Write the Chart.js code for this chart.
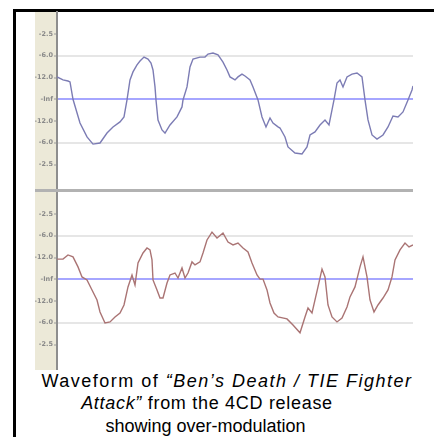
<!DOCTYPE html>
<html>
<head>
<meta charset="utf-8">
<script src="https://cdn.jsdelivr.net/npm/chart.js@4/dist/chart.umd.min.js"></script>
<style>
  html, body { margin: 0; padding: 0; background: #fff; width: 434px; height: 437px; overflow: hidden; position: relative; }
  #frame { position: absolute; left: 13px; top: 9px; width: 421px; height: 428px; border-top: 3px solid #000; border-left: 3px solid #000; box-sizing: border-box; }
  #strip { position: absolute; left: 35px; top: 12px; width: 21px; height: 358px; background: #ece9d8; }
  .panel { position: absolute; left: 35px; width: 378px; height: 179px; }
  #panelTop { top: 11px; }
  #panelBottom { top: 191px; }
  #divider { position: absolute; left: 35px; top: 189px; width: 378px; height: 3px; background: #b2b2b2; }
  .cap { position: absolute; left: 0; text-align: center; white-space: nowrap; font-family: "Liberation Sans", Arial, sans-serif; font-size: 18px; line-height: 22.5px; color: #000; }
</style>
</head>
<body>
<div id="frame"></div>
<div id="strip"></div>
<div class="panel" id="panelTop"><canvas id="chartTop"></canvas></div>
<div class="panel" id="panelBottom"><canvas id="chartBottom"></canvas></div>
<div id="divider"></div>
<div class="cap" style="top:369.5px; width:454px; letter-spacing:1.5px;">Waveform of <i>“Ben’s Death / TIE Fighter</i></div>
<div class="cap" style="top:392px; width:414px; letter-spacing:0.7px;"><i>Attack”</i> from the 4CD release</div>
<div class="cap" style="top:414.5px; width:411px;">showing over-modulation</div>
<script>
// dB ruler: evenly spaced level marks and their labels
const tickLevels = [3, 2, 1, 0, -1, -2, -3];
const tickLabels = ['-2.5', '-6.0', '-12.0', '-Inf', '-12.0', '-6.0', '-2.5'];

// Left channel (upper track)
const leftTime = [0, 6, 11, 13, 16, 23, 30, 36, 43, 50, 56, 63, 67, 70, 73, 76, 80, 83, 87, 91,
  94, 96, 98, 99, 101, 105, 108, 113, 120, 125, 126, 130, 133, 136, 143, 148, 151, 156, 161, 166,
  170, 173, 178, 181, 185, 188, 193, 196, 201, 205, 209, 213, 216, 221, 223, 228, 231, 238, 245, 250,
  253, 258, 263, 268, 272, 275, 277, 280, 283, 286, 290, 295, 300, 305, 308, 311, 315, 320, 326, 331,
  336, 341, 346, 351, 355, 356];
const leftLevel = [1.03, 0.89, 0.84, 0.80, 0.00, -1.09, -1.73, -2.06, -2.01, -1.55, -1.27, -1.04, -0.81, -0.03, 0.89, 1.26, 1.58, 1.76, 1.94, 1.85,
  1.67, 1.35, 0.57, -0.03, -0.95, -1.41, -1.55, -1.18, -0.81, -0.35, -0.03, 0.57, 1.49, 1.85, 1.94, 1.94, 2.08, 2.13, 2.04, 1.71,
  1.35, 1.03, 0.89, 1.03, 1.16, 1.07, 0.89, 0.57, -0.03, -0.81, -1.27, -0.86, -1.09, -1.27, -1.32, -1.73, -2.19, -2.47, -2.51, -2.19,
  -1.64, -1.50, -1.18, -0.95, -1.18, -0.49, -0.03, 0.75, 0.89, 0.57, 1.03, 1.16, 1.21, 1.03, -0.03, -0.95, -1.64, -1.83, -1.64, -1.27,
  -0.77, -0.81, -0.58, -0.03, 0.43, 0.61];

// Right channel (lower track)
const rightTime = [0, 6, 11, 16, 21, 25, 30, 35, 40, 43, 48, 53, 58, 63, 67, 71, 75, 78, 81, 86,
  90, 93, 95, 96, 100, 103, 106, 110, 113, 118, 121, 125, 128, 131, 135, 138, 143, 146, 150, 155,
  160, 166, 171, 176, 181, 186, 191, 195, 200, 203, 206, 210, 213, 217, 221, 230, 236, 243, 248, 251,
  255, 258, 261, 265, 268, 271, 275, 280, 285, 290, 293, 298, 303, 306, 310, 313, 317, 321, 326, 331,
  335, 338, 343, 348, 352, 356];
const rightLevel = [0.93, 0.93, 1.12, 1.03, 0.57, 0.11, -0.03, -0.49, -0.95, -1.50, -2.01, -1.96, -1.73, -1.55, -1.18, -0.35, 0.20, -0.26, 0.75, 1.21,
  1.44, 1.35, 0.89, -0.03, -0.49, -0.86, -0.86, -0.17, 0.20, 0.29, 0.06, 0.52, 0.06, 0.29, 0.80, 0.66, 0.80, 1.21, 1.81, 2.17,
  1.90, 2.13, 1.71, 1.58, 1.67, 1.44, 1.26, 0.75, 0.20, 0.01, 0.01, -0.49, -1.09, -1.55, -1.73, -1.82, -2.10, -2.46, -1.73, -1.32,
  -1.55, -0.95, -0.35, 0.47, 0.11, -1.18, -1.73, -1.96, -1.78, -1.27, -0.81, -0.35, 0.57, 1.03, 0.11, -0.95, -1.50, -1.18, -0.86, -0.49,
  0.11, 0.89, 1.35, 1.67, 1.49, 1.58];

function toPoints(times, levels) {
  return times.map((t, i) => ({ x: t, y: levels[i] }));
}

function trackOptions() {
  return {
    responsive: true,
    maintainAspectRatio: false,
    animation: false,
    layout: { padding: 0 },
    plugins: { legend: { display: false }, tooltip: { enabled: false } },
    elements: { point: { radius: 0 }, line: { tension: 0, borderWidth: 1.4 } },
    scales: {
      x: { type: 'linear', min: 0, max: 356, display: false },
      y: {
        type: 'linear',
        min: -4.17,
        max: 4.06,
        afterBuildTicks: (scale) => { scale.ticks = tickLevels.map(v => ({ value: v })); },
        afterFit: (scale) => { scale.width = 22; scale.paddingTop = 0; scale.paddingBottom = 0; },
        ticks: {
          autoSkip: false,
          padding: 1,
          color: '#8a8a8a',
          font: { size: 6.5, family: 'DejaVu Sans', weight: 'bold' },
          callback: (value) => tickLabels[tickLevels.indexOf(value)]
        },
        grid: {
          lineWidth: 2,
          tickLength: 3,
          tickColor: '#9a9a9a',
          tickWidth: 1,
          color: (ctx) => {
            const v = ctx.tick ? ctx.tick.value : null;
            if (v === 0) return '#a6a6ff';
            if (v === 2 || v === -2) return '#e6e6e6';
            return 'rgba(0,0,0,0)';
          }
        },
        border: { display: true, color: '#8e8e8e', width: 2 }
      }
    }
  };
}

new Chart(document.getElementById('chartTop'), {
  type: 'line',
  data: { datasets: [{ data: toPoints(leftTime, leftLevel), borderColor: 'rgb(124,124,180)', fill: false }] },
  options: trackOptions()
});

new Chart(document.getElementById('chartBottom'), {
  type: 'line',
  data: { datasets: [{ data: toPoints(rightTime, rightLevel), borderColor: 'rgb(170,116,116)', fill: false }] },
  options: trackOptions()
});
</script>
</body>
</html>
